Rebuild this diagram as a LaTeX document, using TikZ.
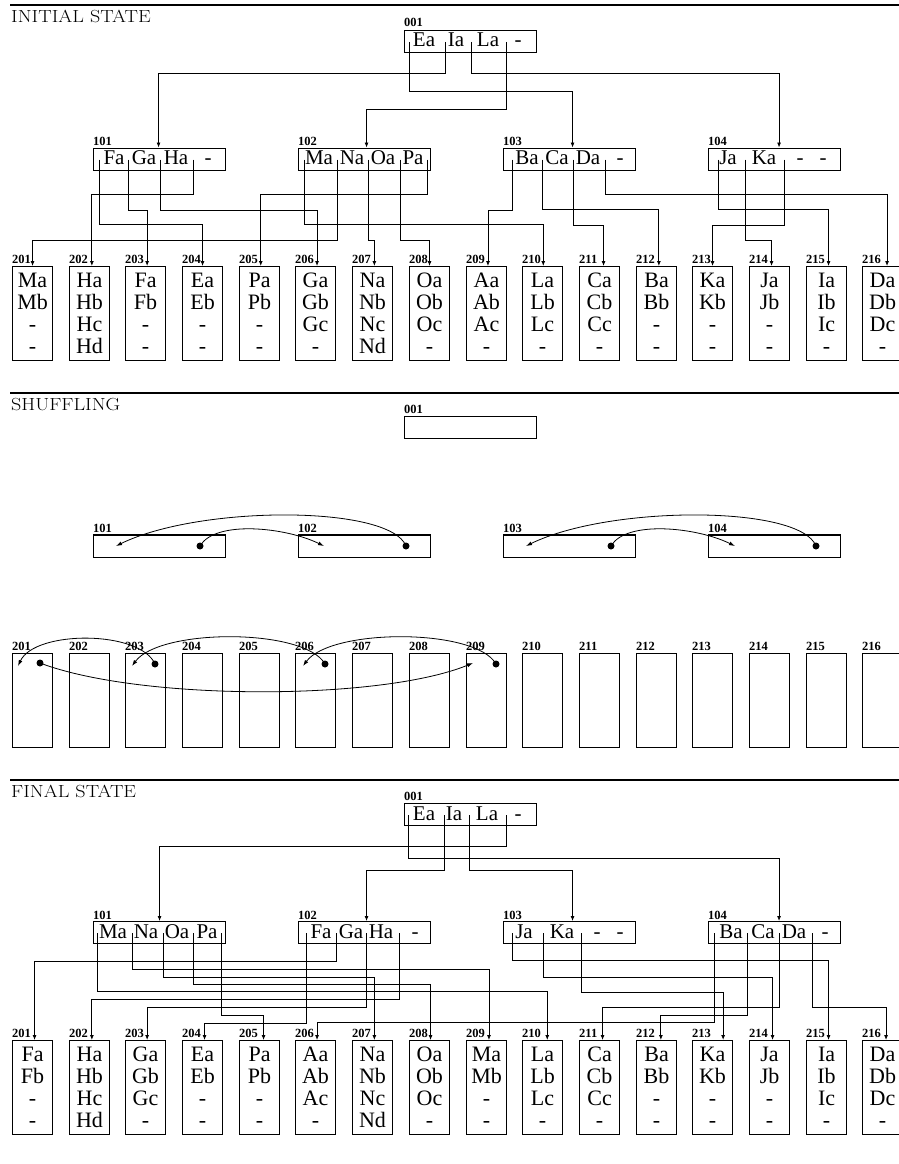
\documentclass[tikz,border=0pt]{standalone}
\usepackage{fontspec}
\newfontfamily\tms{Liberation Serif}
\usetikzlibrary{arrows.meta}
\newcommand\ptrto[4]{\draw[ptr] (#1) -- (#1 |- 0,#2) -| ([xshift=#4pt]#3.north);}
\begin{document}
\begin{tikzpicture}[x=1pt,y=-1pt,
  rulestyle/.style={line width=2pt},
  title/.style={anchor=base west, inner sep=0pt, font=\fontsize{17.5}{18}\selectfont},
  lbl/.style={anchor=base west, inner sep=0pt, font=\tms\bfseries\fontsize{12.5}{13}\selectfont},
  ibox/.style={draw, line width=1.1pt, minimum width=132pt, minimum height=22pt, anchor=north west, inner sep=0pt},
  ent/.style={anchor=base, inner sep=0pt, font=\tms\fontsize{21}{21}\selectfont},
  leaf/.style={draw, line width=1.1pt, minimum width=40pt, minimum height=94pt, anchor=north west, inner sep=0pt, align=center, font=\tms\fontsize{22}{22}\selectfont},
  ptr/.style={line width=0.8pt, -{Latex[length=5pt,width=4pt]}},
  dot/.style={circle, fill, inner sep=0pt, minimum size=7pt},
  arc/.style={line width=0.8pt, -{Latex[length=6pt,width=4pt]}}]
\useasboundingbox (0,0) rectangle (899,1164);
\clip (0,0) rectangle (899,1164);

% ---------- rules and titles
\draw[rulestyle] (10,5.5) -- (899,5.5);
\node[title] (tinit) at (11,23) {\scalebox{1.15}[1]{INITIAL STATE}};
\draw[rulestyle] (10,393) -- (899,393);
\node[title] (tshuf) at (11,410) {\scalebox{1.15}[1]{SHUFFLING}};
\draw[rulestyle] (10,780) -- (899,780);
\node[title] (tfin) at (11,797) {\scalebox{1.15}[1]{FINAL STATE}};

% ================= INITIAL STATE
\node[lbl] (li001) at (404,27) {001};
\node[ibox] (i001) at (404,30) {};
\foreach \t/\x [count=\n] in {Ea/424,Ia/456,La/488,-/518} \node[ent] (i001e\n) at (\x,47) {\t};
\foreach \x [count=\n] in {409,445,471,506} \coordinate (i001p\n) at (\x,42);

\foreach \b/\x in {101/93,102/298,103/503,104/708} {
  \node[ibox] (i\b) at (\x,147.5) {};
  \node[lbl] (li\b) at (\x,145.5) {\b};
}
\foreach \t/\x [count=\n] in {Fa/114,Ga/144,Ha/176,-/208} \node[ent] (i101e\n) at (\x,164.5) {\t};
\foreach \t/\x [count=\n] in {Ma/319,Na/352,Oa/383,Pa/413} \node[ent] (i102e\n) at (\x,164.5) {\t};
\foreach \t/\x [count=\n] in {Ba/527,Ca/557,Da/588,-/620} \node[ent] (i103e\n) at (\x,164.5) {\t};
\foreach \t/\x [count=\n] in {Ja/728,Ka/764,-/800,-/823} \node[ent] (i104e\n) at (\x,164.5) {\t};
\foreach \x [count=\n] in {99,128,160,193} \coordinate (i101p\n) at (\x,159.5);
\foreach \x [count=\n] in {304,337,368,400,427} \coordinate (i102p\n) at (\x,159.5);
\foreach \x [count=\n] in {512,542,573,605} \coordinate (i103p\n) at (\x,159.5);
\foreach \x [count=\n] in {718,745,784} \coordinate (i104p\n) at (\x,159.5);

\foreach \i/\a/\b/\c/\d [count=\k from 0] in {201/Ma/Mb/-/-,202/Ha/Hb/Hc/Hd,203/Fa/Fb/-/-,204/Ea/Eb/-/-,205/Pa/Pb/-/-,206/Ga/Gb/Gc/-,207/Na/Nb/Nc/Nd,208/Oa/Ob/Oc/-,209/Aa/Ab/Ac/-,210/La/Lb/Lc/-,211/Ca/Cb/Cc/-,212/Ba/Bb/-/-,213/Ka/Kb/-/-,214/Ja/Jb/-/-,215/Ia/Ib/Ic/-,216/Da/Db/Dc/-} {
  \node[leaf] (i\i) at ({round(12+56.7*\k)},266) {\a\\\b\\\c\\\d};
  \node[lbl] (li\i) at ({round(12+56.7*\k)},263) {\i};
}

\ptrto{i001p1}{91}{i103}{3}
\ptrto{i001p2}{73}{i101}{-1}
\ptrto{i001p3}{73}{i104}{4.5}
\ptrto{i001p4}{109}{i102}{2}

\ptrto{i101p1}{224}{i204}{0}
\ptrto{i101p2}{210}{i203}{1.6}
\ptrto{i101p3}{210}{i206}{1.5}
\ptrto{i101p4}{194}{i202}{2.3}

\ptrto{i102p1}{224}{i210}{0.7}
\ptrto{i102p2}{240}{i201}{0}
\ptrto{i102p3}{240}{i207}{1.8}
\ptrto{i102p4}{240}{i208}{0}
\ptrto{i102p5}{194}{i205}{1.2}

\ptrto{i103p1}{210}{i209}{1.4}
\ptrto{i103p2}{209}{i212}{2.3}
\ptrto{i103p3}{225}{i211}{4}
\ptrto{i103p4}{194}{i216}{4.5}

\ptrto{i104p1}{209}{i215}{2}
\ptrto{i104p2}{240}{i214}{2}
\ptrto{i104p3}{225}{i213}{0}

% ================= SHUFFLING
\node[lbl] (ls001) at (404,413) {001};
\node[ibox] (s001) at (404,416) {};
\foreach \b/\x in {101/93,102/298,103/503,104/708} {
  \node[ibox] (s\b) at (\x,535) {};
  \draw[line width=1.8pt] (s\b.north west) -- (s\b.north east);
  \node[lbl] (ls\b) at (\x,532) {\b};
}
\foreach \i [count=\k from 0] in {201,202,203,204,205,206,207,208,209,210,211,212,213,214,215,216} {
  \node[leaf] (s\i) at ({round(12+56.7*\k)},653) {};
  \node[lbl] (ls\i) at ({round(12+56.7*\k)},650) {\i};
}
\node[dot] (d101) at (200,546) {};
\node[dot] (d102) at (406,546) {};
\node[dot] (d103) at (611,546) {};
\node[dot] (d104) at (816,546) {};
\coordinate (e102) at (324,546);
\coordinate (e101) at (116,546);
\coordinate (e104) at (735,546);
\coordinate (e103) at (526,546);
\draw[arc] (d101.center) .. controls (215,520) and (285,527) .. (e102);
\draw[arc] (d102.center) .. controls (390,505) and (200,505) .. (e101);
\draw[arc] (d103.center) .. controls (626,520) and (696,527) .. (e104);
\draw[arc] (d104.center) .. controls (800,505) and (610,505) .. (e103);

\node[dot] (d201) at (40,663) {};
\node[dot] (d203) at (155,664) {};
\node[dot] (d206) at (325,664) {};
\node[dot] (d209) at (496,664) {};
\coordinate (e201) at (18,666);
\coordinate (e203) at (132,666);
\coordinate (e206) at (303,666);
\coordinate (e209) at (473,663);
\draw[arc] (d203.center) .. controls (140,630) and (35,630) .. (e201);
\draw[arc] (d206.center) .. controls (305,628) and (160,628) .. (e203);
\draw[arc] (d209.center) .. controls (476,628) and (331,628) .. (e206);
\draw[arc] (d201.center) .. controls (140,701) and (380,701) .. (e209);

% ================= FINAL STATE
\node[lbl] (lf001) at (404,800) {001};
\node[ibox] (f001) at (404,803) {};
\foreach \t/\x [count=\n] in {Ea/424,Ia/454,La/487,-/518} \node[ent] (f001e\n) at (\x,820) {\t};
\foreach \x [count=\n] in {408,444,469,506} \coordinate (f001p\n) at (\x,815);

\foreach \b/\x in {101/93,102/298,103/503,104/708} {
  \node[ibox] (f\b) at (\x,921) {};
  \node[lbl] (lf\b) at (\x,919) {\b};
}
\foreach \t/\x [count=\n] in {Ma/113,Na/146,Oa/177,Pa/207} \node[ent] (f101e\n) at (\x,938) {\t};
\foreach \t/\x [count=\n] in {Fa/321,Ga/351,Ha/381,-/415} \node[ent] (f102e\n) at (\x,938) {\t};
\foreach \t/\x [count=\n] in {Ja/524,Ka/562,-/597,-/620} \node[ent] (f103e\n) at (\x,938) {\t};
\foreach \t/\x [count=\n] in {Ba/731,Ca/763,Da/794,-/825} \node[ent] (f104e\n) at (\x,938) {\t};
\foreach \x [count=\n] in {97,132,163,193,221} \coordinate (f101p\n) at (\x,933);
\foreach \x [count=\n] in {306,336,366,399} \coordinate (f102p\n) at (\x,933);
\foreach \x [count=\n] in {512,543,581} \coordinate (f103p\n) at (\x,933);
\foreach \x [count=\n] in {714,747,779,812} \coordinate (f104p\n) at (\x,933);

\foreach \i/\a/\b/\c/\d [count=\k from 0] in {201/Fa/Fb/-/-,202/Ha/Hb/Hc/Hd,203/Ga/Gb/Gc/-,204/Ea/Eb/-/-,205/Pa/Pb/-/-,206/Aa/Ab/Ac/-,207/Na/Nb/Nc/Nd,208/Oa/Ob/Oc/-,209/Ma/Mb/-/-,210/La/Lb/Lc/-,211/Ca/Cb/Cc/-,212/Ba/Bb/-/-,213/Ka/Kb/-/-,214/Ja/Jb/-/-,215/Ia/Ib/Ic/-,216/Da/Db/Dc/-} {
  \node[leaf] (f\i) at ({round(12+56.7*\k)},1040) {\a\\\b\\\c\\\d};
  \node[lbl] (lf\i) at ({round(12+56.7*\k)},1037) {\i};
}

\ptrto{f001p1}{858}{f104}{4.5}
\ptrto{f001p2}{870}{f102}{2}
\ptrto{f001p3}{870}{f103}{3}
\ptrto{f001p4}{846}{f101}{0}

\ptrto{f101p1}{991}{f210}{4.7}
\ptrto{f101p2}{969}{f209}{2.4}
\ptrto{f101p3}{977}{f207}{1.8}
\ptrto{f101p4}{984}{f208}{1}
\ptrto{f101p5}{1015}{f205}{4}

\ptrto{f102p1}{1023}{f204}{2}
\ptrto{f102p2}{961}{f201}{2}
\ptrto{f102p3}{1007}{f203}{1.6}
\ptrto{f102p4}{999}{f202}{2.3}

\ptrto{f103p1}{960}{f215}{2}
\ptrto{f103p2}{977}{f214}{3}
\ptrto{f103p3}{992}{f213}{10.6}

\ptrto{f104p1}{1022}{f206}{1.5}
\ptrto{f104p2}{1015}{f212}{4.3}
\ptrto{f104p3}{1007}{f211}{3}
\ptrto{f104p4}{1007}{f216}{3.5}
\end{tikzpicture}
\end{document}
